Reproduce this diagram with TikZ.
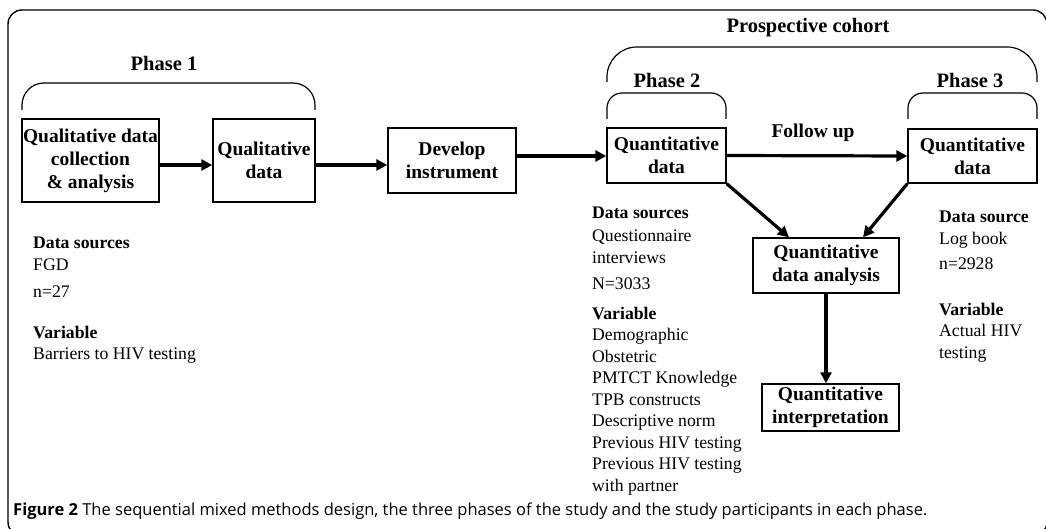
\documentclass[tikz,border=0pt]{standalone}
\usepackage{fontspec}
\setmainfont{Liberation Serif}
\newfontfamily\capfont{Open Sans}
\usetikzlibrary{arrows.meta}

\begin{document}
\begin{tikzpicture}[x=1pt, y=-1pt, >={Triangle[length=11pt, width=11pt]},
  box/.style={draw, line width=1.4pt, align=center, inner sep=0pt, font=\bfseries\fontsize{19.5}{23}\selectfont},
  flow/.style={->, line width=3.2pt},
  bracket/.style={line width=1.2pt, rounded corners=#1},
  title/.style={font=\bfseries\fontsize{20.5}{24}\selectfont},
  info/.style={anchor=north west, align=left, inner sep=0pt, font=\fontsize{17.7}{21.5}\selectfont}]
\useasboundingbox (0,0) rectangle (1046,529);
% outer frame, cut off at the right and bottom
\begin{scope}
\clip (0,0) rectangle (1046,529);
\draw[line width=1.4pt, rounded corners=14pt] (8,10) rectangle (1047,536);
\end{scope}
% brackets over the phases
\draw[bracket=22pt] (22,110) -- (22,83) -- (315,83) -- (315,110);
\draw[bracket=30pt] (607,82) -- (607,47) -- (1037,47) -- (1037,82);
\draw[bracket=15pt] (607,119) -- (607,93) -- (726,93) -- (726,119);
\draw[bracket=15pt] (908,119) -- (908,93) -- (1037,93) -- (1037,119);
\node[title] (phaseone) at (164,63) {Phase 1};
\node[title] (cohort) at (808,28) {Prospective cohort};
\node[title] (phasetwo) at (667,80) {Phase 2};
\node[title] (phasethree) at (970,80) {Phase 3};
% boxes
\node[box, minimum width=137pt, minimum height=83pt] (qualcoll) at (90.5,160.5) {Qualitative data\\collection\\\& analysis};
\node[box, minimum width=102pt, minimum height=83pt] (qualdata) at (264,160.5) {Qualitative\\data};
\node[box, minimum width=128pt, minimum height=65pt] (instrument) at (452,160.5) {Develop\\instrument};
\node[box, minimum width=119pt, minimum height=55pt] (quanttwo) at (666.5,155.5) {Quantitative\\data};
\node[box, minimum width=129pt, minimum height=54pt] (quantthree) at (972.5,156) {Quantitative\\data};
\node[box, minimum width=146pt, minimum height=55pt] (analysis) at (826,265.5) {Quantitative\\data analysis};
\node[box, minimum width=137pt, minimum height=47pt] (interp) at (830.5,407.5) {Quantitative\\interpretation};
% arrows
\draw[flow] ([yshift=-4.5pt]qualcoll.east) -- ([yshift=-4.5pt]qualdata.west);
\draw[flow] ([yshift=-4.5pt]qualdata.east) -- ([yshift=-4.5pt]instrument.west);
\draw[flow] ([yshift=4.5pt]instrument.east) -- ([yshift=-0.5pt]quanttwo.west);
\draw[flow] (quanttwo.east) -- (quantthree.west);
\node[title, font=\bfseries\fontsize{19.5}{23}\selectfont] (followup) at (813,133) {Follow up};
\draw[flow] (quanttwo.south east) -- ([xshift=-37pt]analysis.north);
\draw[flow] (quantthree.south west) -- ([xshift=37pt]analysis.north);
\draw[flow] (analysis.south) -- (analysis.south |- interp.north);
% data sources and variables
\node[info] (infoone) at (33,237) {\textbf{Data sources}\\FGD\\[6pt]n=27\\[19pt]\textbf{Variable}\\Barriers to HIV testing};
\node[info] (infotwo) at (592,207) {\textbf{Data sources}\\[1.5pt]Questionnaire\\interviews\\[4.5pt]N=3033\\[8.5pt]\textbf{Variable}\\Demographic\\Obstetric\\PMTCT Knowledge\\TPB constructs\\Descriptive norm\\Previous HIV testing\\Previous HIV testing\\with partner};
\node[info] (infothree) at (939,211) {\textbf{Data source}\\Log book\\[4pt]n=2928\\[24pt]\textbf{Variable}\\Actual HIV\\testing};
% caption
\node[anchor=base west, inner sep=0pt, font=\capfont\fontsize{16.5}{20}\selectfont] (caption) at (13,515)
  {\textbf{Figure 2} The sequential mixed methods design, the three phases of the study and the study participants in each phase.};
\end{tikzpicture}
\end{document}
